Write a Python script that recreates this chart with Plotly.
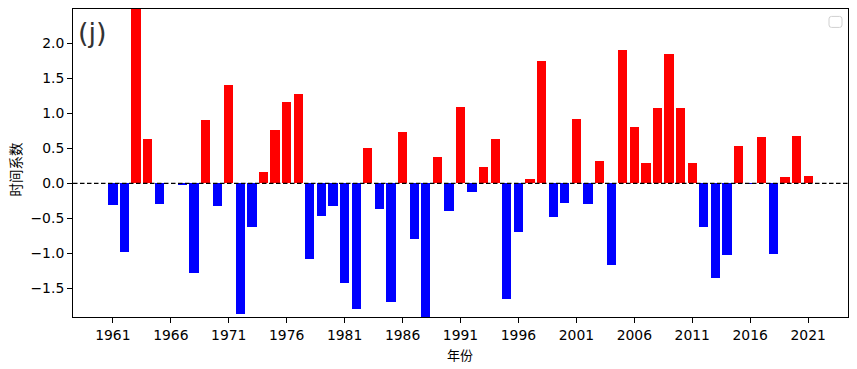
import plotly.graph_objects as go

years = list(range(1961, 2022))
values = [
    -0.31, -0.98, 2.49, 0.63, -0.29, 0.00, -0.02, -1.28, 0.90, -0.33,
    1.40, -1.86, -0.62, 0.16, 0.76, 1.16, 1.28, -1.08, -0.46, -0.33,
    -1.42, -1.79, 0.50, -0.37, -1.69, 0.73, -0.79, -1.91, 0.38, -0.39,
    1.09, -0.13, 0.23, 0.63, -1.65, -0.69, 0.06, 1.75, -0.48, -0.28,
    0.92, -0.29, 0.32, -1.16, 1.90, 0.80, 0.29, 1.07, 1.85, 1.07,
    0.29, -0.62, -1.35, -1.02, 0.53, -0.01, 0.66, -1.01, 0.09, 0.68,
    0.10,
]
tick_years = list(range(1961, 2022, 5))
y_ticks = [-1.5, -1.0, -0.5, 0.0, 0.5, 1.0, 1.5, 2.0]
colors = ["#ff0000" if v > 0 else "#0000ff" for v in values]

W, H = 857, 369
L, R, T, B = 73.3, 8.7, 9.3, 52
pw, ph = W - L - R, H - T - B

def px(x):
    return (x - L) / pw

def py(y):
    return (H - B - y) / ph

fig = go.Figure()
fig.add_trace(go.Bar(x=years, y=values, width=0.8, marker=dict(color=colors, line=dict(width=0)),
                     showlegend=False, hoverinfo="skip"))

xmin = years[0] - 0.4 - 0.05 * (years[-1] - years[0] + 0.8)
xmax = years[-1] + 0.4 + 0.05 * (years[-1] - years[0] + 0.8)

fig.update_layout(
    width=W, height=H,
    margin=dict(l=L, r=R, t=T, b=B),
    paper_bgcolor="white", plot_bgcolor="white",
    bargap=0,
    font=dict(family="DejaVu Sans", size=13.9, color="black"),
    xaxis=dict(range=[xmin, xmax], tickmode="array", tickvals=tick_years,
               ticktext=[str(t) for t in tick_years],
               showline=True, mirror=True, linecolor="black", linewidth=1,
               ticks="outside", ticklen=5, tickcolor="black", showgrid=False, zeroline=False),
    yaxis=dict(range=[min(values), max(values)], tickmode="array", tickvals=y_ticks,
               ticktext=[("−" if v < 0 else "") + f"{abs(v):.1f}" for v in y_ticks],
               showline=True, mirror=True, linecolor="black", linewidth=1,
               ticks="outside", ticklen=5, tickcolor="black", showgrid=False, zeroline=False),
)

fig.add_shape(type="line", xref="paper", yref="y", x0=0, x1=1, y0=0, y1=0,
              line=dict(color="black", width=1.2, dash="4.5px,2.5px"), layer="above")

# empty legend box (rounded)
x0, x1, y0, y1, r = px(829.3), px(842.3), py(27.7), py(16.7), 2.5
rx, ry = r / pw, r / ph
path = (f"M {x0+rx},{y0} L {x1-rx},{y0} Q {x1},{y0} {x1},{y0+ry} L {x1},{y1-ry} "
        f"Q {x1},{y1} {x1-rx},{y1} L {x0+rx},{y1} Q {x0},{y1} {x0},{y1-ry} "
        f"L {x0},{y0+ry} Q {x0},{y0} {x0+rx},{y0} Z")
fig.add_shape(type="path", xref="paper", yref="paper", path=path,
              line=dict(color="#d0d0d0", width=1), fillcolor="white")

fig.add_annotation(text="(j)", xref="paper", yref="paper", x=px(92.5), y=py(32.5),
                   showarrow=False, xanchor="center", yanchor="middle",
                   font=dict(family="DejaVu Sans", size=27, color="#333333"))
fig.add_annotation(text="年份", xref="paper", yref="paper", x=px(460), y=py(354),
                   showarrow=False, xanchor="center", yanchor="middle",
                   font=dict(family="Noto Sans CJK SC", size=13, color="black"))
fig.add_annotation(text="时间系数", xref="paper", yref="paper", x=px(15), y=py(169),
                   showarrow=False, xanchor="center", yanchor="middle", textangle=-90,
                   font=dict(family="Noto Sans CJK SC", size=13.5, color="black"))

fig.write_html("out.html", config={"displayModeBar": False},
               post_script="document.body.style.margin='0px';")
